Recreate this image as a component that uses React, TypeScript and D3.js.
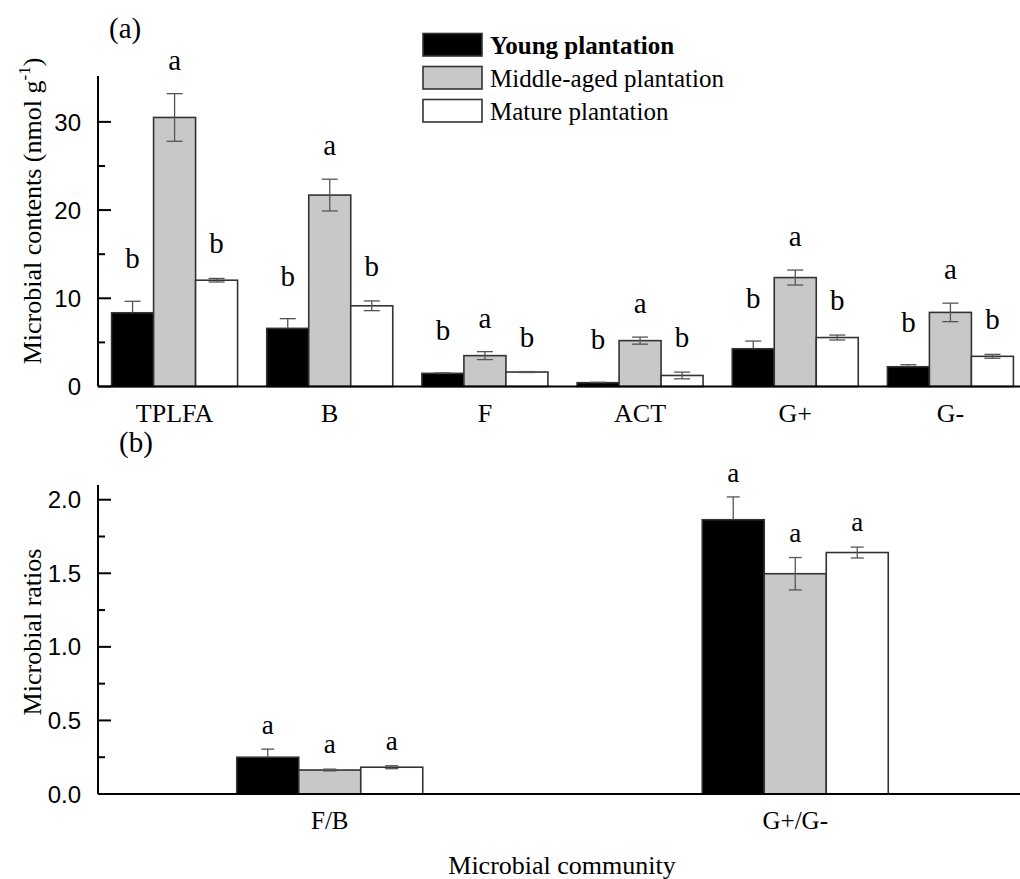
import * as d3 from 'd3';
import React, { useEffect, useRef } from 'react';

// panel (a) - microbial contents
const groupsA = ['TPLFA', 'B', 'F', 'ACT', 'G+', 'G-'];
const youngA = [8.36, 6.59, 1.49, 0.43, 4.28, 2.24];
const youngErrA = [1.3, 1.1, 0.05, 0.05, 0.87, 0.23];
const middleA = [30.5, 21.7, 3.5, 5.2, 12.35, 8.4];
const middleErrA = [2.7, 1.8, 0.45, 0.4, 0.85, 1.05];
const matureA = [12.05, 9.15, 1.64, 1.25, 5.55, 3.42];
const matureErrA = [0.2, 0.55, 0.05, 0.38, 0.28, 0.22];
const lettersYoungA = ['b', 'b', 'b', 'b', 'b', 'b'];
const lettersMiddleA = ['a', 'a', 'a', 'a', 'a', 'a'];
const lettersMatureA = ['b', 'b', 'b', 'b', 'b', 'b'];
const ticksA = [0, 10, 20, 30];

// panel (b) - microbial ratios
const groupsB = ['F/B', 'G+/G-'];
const youngB = [0.25, 1.864];
const youngErrB = [0.055, 0.155];
const middleB = [0.163, 1.497];
const middleErrB = [0.006, 0.11];
const matureB = [0.182, 1.641];
const matureErrB = [0.01, 0.037];
const lettersB = [['a', 'a'], ['a', 'a'], ['a', 'a']];
const ticksB = [0, 0.5, 1.0, 1.5, 2.0];

const seriesNames = ['Young plantation', 'Middle-aged plantation', 'Mature plantation'];
const fills = ['#000000', '#c8c8c8', '#ffffff'];

const SERIF = '"Liberation Serif", "Times New Roman", serif';
const SANS = '"Liberation Sans", Arial, sans-serif';

const App = () => {
  const ref = useRef<SVGSVGElement>(null);

  useEffect(() => {
    const svg = d3.select(ref.current);
    svg.selectAll('*').remove();

    const drawPanel = (opts: any) => {
      const { groups, vals, errs, letters, yMax, y0, y1, ticks, minor, fmt, inner, cap, gaps, letterSize, fontSize } = opts;
      const x = d3.scaleBand().domain(groups).range([97, 1028]).padding(0);
      const xi = d3.scaleBand().domain(['0', '1', '2']).range([-inner, inner]).padding(0);
      const y = d3.scaleLinear().domain([0, yMax]).range([y0, y1]);
      const g = svg.append('g');

      // bars
      vals.forEach((arr: number[], s: number) => {
        arr.forEach((v, i) => {
          const cx = x(groups[i])! + x.bandwidth() / 2 + xi(String(s))!;
          g.append('rect')
            .attr('x', cx).attr('y', y(v))
            .attr('width', xi.bandwidth()).attr('height', y(0) - y(v))
            .attr('fill', fills[s]).attr('stroke', '#333').attr('stroke-width', 1.6);
        });
      });
      // error bars + letters
      vals.forEach((arr: number[], s: number) => {
        arr.forEach((v, i) => {
          const cx = x(groups[i])! + x.bandwidth() / 2 + xi(String(s))! + xi.bandwidth() / 2;
          const e = errs[s][i];
          const hi = y(v + e), lo = y(Math.max(0, v - e));
          // lower half disappears into the black bars
          const bottom = s === 0 ? y(v) : lo;
          g.append('line').attr('x1', cx).attr('x2', cx).attr('y1', hi).attr('y2', bottom)
            .attr('stroke', '#555').attr('stroke-width', 1.3);
          const caps = s === 0 ? [hi] : [hi, lo];
          caps.forEach(yy => g.append('line')
            .attr('x1', cx - cap / 2).attr('x2', cx + cap / 2).attr('y1', yy).attr('y2', yy)
            .attr('stroke', '#555').attr('stroke-width', 1.3));
          g.append('text').attr('x', cx).attr('y', hi - gaps[s])
            .attr('text-anchor', 'middle').attr('font-family', SERIF).attr('font-size', letterSize)
            .text(letters[s][i]);
        });
      });

      // axes
      g.append('line').attr('x1', 98).attr('x2', 1028).attr('y1', y(0)).attr('y2', y(0))
        .attr('stroke', '#000').attr('stroke-width', 2.2);
      g.append('line').attr('x1', 98).attr('x2', 98).attr('y1', y(yMax)).attr('y2', y(0))
        .attr('stroke', '#000').attr('stroke-width', 2);
      ticks.forEach((t: number) => {
        g.append('line').attr('x1', 98).attr('x2', 111).attr('y1', y(t)).attr('y2', y(t))
          .attr('stroke', '#000').attr('stroke-width', 2);
        g.append('text').attr('x', 81).attr('y', y(t)).attr('dy', '0.36em')
          .attr('text-anchor', 'end').attr('font-family', SANS).attr('font-size', 24)
          .text(fmt(t));
      });
      minor.forEach((t: number) => {
        g.append('line').attr('x1', 98).attr('x2', 105).attr('y1', y(t)).attr('y2', y(t))
          .attr('stroke', '#000').attr('stroke-width', 2);
      });
      groups.forEach((c: string) => {
        g.append('text').attr('x', x(c)! + x.bandwidth() / 2).attr('y', y(0) + 35)
          .attr('text-anchor', 'middle').attr('font-family', SERIF).attr('font-size', fontSize)
          .text(c);
      });
    };

    drawPanel({
      groups: groupsA,
      vals: [youngA, middleA, matureA],
      errs: [youngErrA, middleErrA, matureErrA],
      letters: [lettersYoungA, lettersMiddleA, lettersMatureA],
      yMax: 35.2, y0: 386.5, y1: 76,
      ticks: ticksA, minor: [5, 15, 25], fmt: (t: number) => String(t),
      inner: 63, cap: 16, gaps: [33, 24, 25], letterSize: 29, fontSize: 26,
    });
    drawPanel({
      groups: groupsB,
      vals: [youngB, middleB, matureB],
      errs: [youngErrB, middleErrB, matureErrB],
      letters: lettersB,
      yMax: 2.1, y0: 794, y1: 485,
      ticks: ticksB, minor: [0.25, 0.75, 1.25, 1.75], fmt: d3.format('.1f'),
      inner: 93, cap: 13, gaps: [15, 16, 16], letterSize: 27, fontSize: 25,
    });

    // panel labels
    svg.append('text').attr('x', 109).attr('y', 38).attr('font-family', SERIF).attr('font-size', 29).text('(a)');
    svg.append('text').attr('x', 119).attr('y', 452).attr('font-family', SERIF).attr('font-size', 29).text('(b)');

    // y titles
    const ta = svg.append('text').attr('transform', 'translate(41,211) rotate(-90)')
      .attr('text-anchor', 'middle').attr('font-family', SERIF).attr('font-size', 26);
    ta.append('tspan').text('Microbial contents (nmol g');
    ta.append('tspan').attr('dy', -11).attr('font-size', 17).text('-1');
    ta.append('tspan').attr('dy', 11).text(')');
    svg.append('text').attr('transform', 'translate(41,632) rotate(-90)')
      .attr('text-anchor', 'middle').attr('font-family', SERIF).attr('font-size', 26)
      .text('Microbial ratios');

    // x title
    svg.append('text').attr('x', 562).attr('y', 874).attr('text-anchor', 'middle')
      .attr('font-family', SERIF).attr('font-size', 26).text('Microbial community');

    // legend
    const leg = svg.append('g');
    seriesNames.forEach((n, i) => {
      leg.append('rect').attr('x', 423).attr('y', 33.5 + i * 33).attr('width', 59).attr('height', 22.5)
        .attr('fill', fills[i]).attr('stroke', '#333').attr('stroke-width', 1.6);
      leg.append('text').attr('x', 490).attr('y', 53.5 + i * 33)
        .attr('font-family', SERIF).attr('font-size', 25)
        .attr('font-weight', i === 0 ? 'bold' : 'normal').text(n);
    });
  }, []);

  return (
    <div style={{ position: 'absolute', left: 0, top: 0, width: 1020, height: 879, background: '#fff' }}>
      <svg ref={ref} width={1020} height={879} />
    </div>
  );
};

export default App;
